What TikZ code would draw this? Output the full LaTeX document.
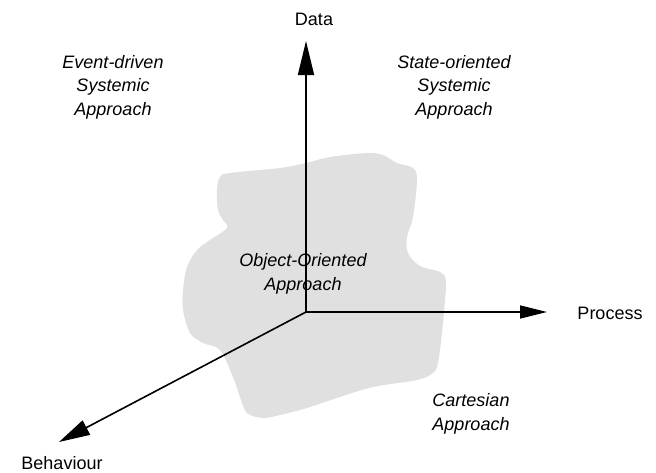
\documentclass[tikz,border=0pt]{standalone}
\usepackage{fontspec}
\setmainfont{Liberation Sans}
\usetikzlibrary{arrows.meta}
\tikzset{
  axis/.style={line width=1.6pt},
  lbl/.style={font=\fontsize{18}{23.5}\selectfont, inner sep=0pt},
  approach/.style={lbl, font=\fontsize{18}{23.5}\selectfont\itshape, align=center},
}
\definecolor{blobgray}{RGB}{224,224,224}
\begin{document}
\begin{tikzpicture}[x=1pt,y=-1pt]
\useasboundingbox (0,0) rectangle (656,472);
% blob
\fill[blobgray] plot[smooth cycle, tension=0.55] coordinates {
(230,173)(280,168)(306,163)(330,157)(367,153)(383,155)(397,163)(413,168)(417,180)
(413,217)(407,237)(408,253)(420,266)(440,272)(446,280)(445,300)(442,333)(438,363)
(433,373)(417,380)(373,387)(337,398)(307,408)(280,415)(263,418)(247,413)(240,397)
(233,377)(220,350)(203,343)(190,333)(183,310)(183,290)(187,267)(197,250)(210,240)
(227,228)(223,220)(218,210)(217,190)(220,177)};
% axes
\coordinate (O) at (306,312);
\coordinate (dataTip) at (306,41);
\coordinate (procTip) at (547,312);
\coordinate (behTip) at (59,442);
\draw[axis,-{Triangle[length=34pt,width=16pt]}] (O) -- (dataTip);
\draw[axis,-{Triangle[length=27pt,width=13pt]}] (O) -- (procTip);
\draw[axis,-{Triangle[length=31pt,width=16pt]}] (O) -- (behTip);
% labels
\node[lbl] (data) at (314,19) {Data};
\node[lbl] (process) at (610,313) {Process};
\node[lbl] (behaviour) at (62,463) {Behaviour};
\node[approach] (event) at (113,87) {Event-driven\\Systemic\\Approach};
\node[approach] (state) at (454,87) {State-oriented\\Systemic\\Approach};
\node[approach] (oo) at (303,274) {Object-Oriented\\Approach};
\node[approach] (cart) at (471,414) {Cartesian\\Approach};
\end{tikzpicture}
\end{document}
